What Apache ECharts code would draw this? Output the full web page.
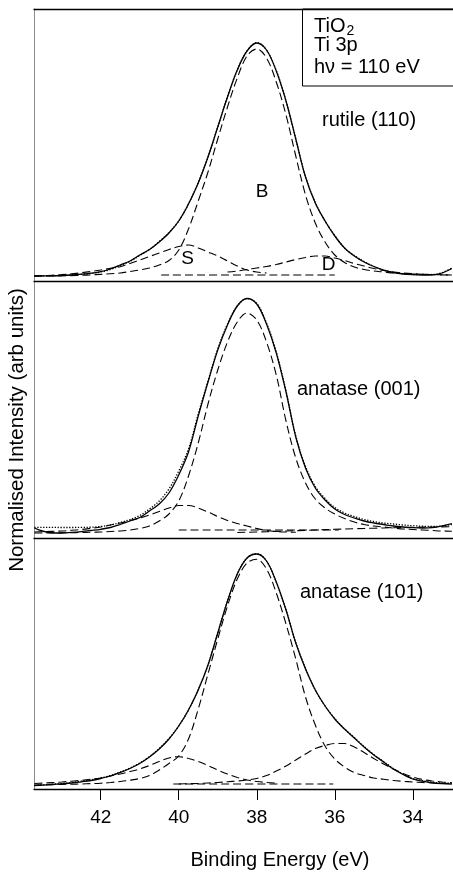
<!DOCTYPE html>
<html>
<head>
<meta charset="utf-8">
<script src="https://cdn.jsdelivr.net/npm/echarts@6/dist/echarts.min.js"></script>
<style>
  html, body { margin: 0; padding: 0; background: #fff; }
  #chart { width: 453px; height: 872px; }
</style>
</head>
<body>
<div id="chart"></div>
<script>
// Binding energies (eV) sampled along the curves
const energy = [43.7, 43.5, 43.25, 43.0, 42.75, 42.5, 42.25, 42.0, 41.75, 41.5, 41.25, 41.0, 40.75, 40.5, 40.25, 40.0, 39.75, 39.5, 39.25, 39.0, 38.75, 38.5, 38.25, 38.0, 37.75, 37.5, 37.25, 37.0, 36.75, 36.5, 36.25, 36.0, 35.75, 35.5, 35.25, 35.0, 34.75, 34.5, 34.25, 34.0, 33.75, 33.5, 33.25, 33.0];
const tickValues = [42, 40, 38, 36, 34];
const panelLabels = ['rutile (110)', 'anatase (001)', 'anatase (101)'];
const componentLabels = ['B', 'S', 'D'];
const boxLines = ['TiO', '2', 'Ti 3p', 'hν = 110 eV'];

// rutile (110)
const rutileFit  = [5, 5.1, 5.2, 5.5, 6, 6.8, 7.8, 9.3, 12, 16, 20, 26, 31.5, 39, 48, 60, 77, 98, 124, 154, 184, 211, 230, 238, 231, 210, 180, 142, 104, 78, 60, 45, 33, 25, 19, 14.5, 11, 8.5, 7, 6.3, 6, 6.2, 8, 12.5];
const rutileData = [5, 5, 5.3, 5.5, 6.2, 6.6, 7.5, 9, 11.5, 15.5, 19.5, 25.5, 31.5, 39.5, 48.5, 60, 77, 98.5, 124, 154, 184.5, 211, 230, 238.5, 231, 210.5, 180, 142, 104, 78.5, 60, 45.5, 33, 25.5, 19.5, 14.5, 11, 8.5, 7.3, 6.5, 6.3, 6.5, 8.3, 12.8];
const rutileB    = [5, 5, 5.1, 5.2, 5.4, 5.7, 6.1, 6.6, 7.2, 8, 9.5, 11, 13, 16, 20.5, 31, 52, 80, 109, 142, 174, 203, 225, 232, 223, 199, 166, 125, 86, 58, 39, 26, 18.5, 14, 11.5, 10, 9, 8, 7.5, 7, 6.7, 6.5, 6.2, 6];
const rutileS    = [5, 5.3, 5.8, 6.4, 7.2, 8.2, 9.5, 11, 12.7, 14.3, 17.5, 21, 24.5, 28, 31.5, 34.5, 36, 33, 29, 25, 20, 15, 11, 9, 8];
const rutileD    = [9, 10, 11.5, 13, 14.5, 16.5, 19, 21.5, 23.5, 25, 25, 23, 20.5, 17.5, 15, 12.5, 10.5, 9, 8, 7.3, 6.8, 6.3, 6.1, 6];
const rutileBgE  = [40.45, 36.0];
const rutileBg   = [6, 6];

// anatase (001)
const a001Fit  = [10, 7, 5.2, 5, 5.6, 6.4, 7.5, 8.7, 10.5, 13.5, 17, 20.5, 27, 34, 45, 63, 86, 122, 156, 188, 213, 232, 239.5, 234, 214, 185, 146, 101, 70, 50, 38, 29, 23.5, 20, 17, 15, 13.5, 12, 11, 10.3, 10, 10.3, 12, 14.5];
const a001Data = [10.7, 10.7, 10.6, 10.5, 10.5, 10.6, 10.8, 11.5, 13, 15.5, 18.5, 22.5, 29, 37, 49, 67, 89, 124, 157, 189, 214, 232, 239.5, 234.5, 215, 186, 147, 102, 71.5, 51.5, 39.5, 30.5, 25, 21.5, 18.5, 16.5, 15, 14, 13, 12.3, 11.8, 11.5, 12, 13.5];
const a001B    = [5, 5, 5.1, 5.2, 5.3, 5.5, 5.7, 6, 6.5, 7, 8, 9.5, 12, 17, 24, 37, 62, 95, 134, 168, 196, 216, 225, 218, 196, 163, 117, 80, 55, 39, 30, 24, 19.5, 16, 13.5, 12, 11, 10, 9, 8.5, 8, 7.5, 7, 6.8];
const a001S    = [6, 6.3, 6.6, 7, 7.7, 8.5, 9.7, 11, 13, 15, 17.5, 20, 23, 26.5, 30, 32.5, 32.5, 30, 26, 21.5, 17.5, 14.5, 12, 9.5, 7.5, 6.5, 6, 5.8];
const a001DE   = [38.5, 38.0, 37.5, 37.0, 36.5, 36.0, 35.5, 35.0, 34.5, 34.0, 33.5, 33.0];
const a001D    = [5.5, 6, 6.6, 7.3, 8, 8.7, 9.3, 9.8, 10.3, 10.7, 11, 11.3];
const a001BgE  = [40.0, 35.9];
const a001Bg   = [8, 8];

// anatase (101)
const a101Fit  = [3.3, 3.8, 4.5, 5.2, 6, 7.2, 8.5, 10.5, 13, 16.5, 20.5, 25.5, 32, 40, 50, 63, 79, 99, 124, 156, 188, 215, 231, 235, 228, 207, 179, 146, 120, 99, 83, 70, 60, 51, 42, 34, 27, 20, 14.5, 10, 7.8, 6.2, 5.4, 5];
const a101Data = [3.5, 4, 4.8, 5.5, 6.5, 7.8, 9.2, 11, 13.5, 17, 21, 26, 32.5, 40.5, 50.5, 63, 79, 99.5, 124, 156, 188, 215, 231, 235.5, 228, 207, 179, 146.5, 120.5, 99, 83, 70.5, 60, 51.5, 42.5, 34.5, 27.5, 20.5, 15, 10.5, 8.3, 6.7, 6, 5.8];
const a101B    = [4, 4.2, 4.4, 4.6, 4.8, 5, 5.4, 5.8, 6.5, 7.5, 8.8, 10.5, 13.5, 19, 25.5, 33, 50, 80, 115, 150, 183, 210, 226, 229.7, 220, 196, 165, 130, 92, 64, 43, 30, 22, 16.5, 13.5, 11, 9.8, 8.5, 7.7, 7, 6.5, 6, 5.7, 5.5];
const a101S    = [5.5, 5.9, 6.4, 7, 7.8, 8.7, 9.8, 11, 13, 15, 17.5, 20, 23.5, 27.5, 31, 32.3, 30.5, 27.5, 23.5, 19, 15, 11.5, 9, 7.5, 6.5, 6];
const a101D    = [5, 5.3, 5.5, 6, 6.5, 7.2, 8, 9, 10.5, 13.5, 18, 23, 29, 35, 40.5, 43.5, 45.5, 45.5, 42, 36.5, 30.5, 25, 20, 15.5, 12, 9.5, 8, 7, 6.3];
const a101BgE  = [40.14, 36.04];
const a101Bg   = [5, 5];

const panelMax = [272, 257, 251];

const FONT = '"Liberation Sans", Arial, Helvetica, sans-serif';
const pairs = (xs, ys) => ys.map((v, i) => [xs[i], v]);

function solid(idx, data) {
  return { type: 'line', xAxisIndex: idx === 0 ? 0 : idx + 1, yAxisIndex: idx, data: data, showSymbol: false, smooth: 0.35, silent: true, z: 4,
    lineStyle: { color: '#000', width: 1.3, type: 'solid' } };
}
function dotted(idx, data) {
  return { type: 'line', xAxisIndex: idx === 0 ? 0 : idx + 1, yAxisIndex: idx, data: data, showSymbol: false, smooth: 0.35, silent: true, z: 3,
    lineStyle: { color: '#000', width: 1.3, type: [1.3, 1.6] } };
}
function dashed(idx, data) {
  return { type: 'line', xAxisIndex: idx === 0 ? 0 : idx + 1, yAxisIndex: idx, data: data, showSymbol: false, smooth: 0.35, silent: true, z: 2,
    lineStyle: { color: '#000', width: 1.1, type: [8, 4] } };
}

const xBase = { type: 'value', min: 32.97, max: 43.71, inverse: true, splitLine: { show: false },
  axisTick: { show: false }, axisLabel: { show: false } };

const option = {
  animation: false,
  backgroundColor: '#fff',
  grid: [
    { left: 34, right: 0, top: 9, height: 272 },
    { left: 34, right: 0, top: 281, height: 257 },
    { left: 34, right: 0, top: 538, height: 251 }
  ],
  xAxis: [
    Object.assign({}, xBase, { gridIndex: 0, position: 'bottom', axisLine: { show: true, onZero: false, lineStyle: { color: '#000', width: 1.3 } } }),
    Object.assign({}, xBase, { gridIndex: 0, position: 'top', axisLine: { show: true, onZero: false, lineStyle: { color: '#000', width: 1.3 } } }),
    Object.assign({}, xBase, { gridIndex: 1, position: 'bottom', axisLine: { show: true, onZero: false, lineStyle: { color: '#000', width: 1.3 } } }),
    Object.assign({}, xBase, { gridIndex: 2, position: 'bottom',
      axisLine: { show: true, onZero: false, lineStyle: { color: '#000', width: 1.3 } },
      axisTick: { show: true, customValues: tickValues, length: 11, inside: false, lineStyle: { color: '#000', width: 1 } },
      axisLabel: { show: true, customValues: tickValues, fontSize: 19, color: '#000', margin: 19, fontFamily: FONT } })
  ],
  yAxis: panelMax.map((m, i) => ({
    gridIndex: i, type: 'value', min: 0, max: m,
    axisLine: { show: true, onZero: false, lineStyle: { color: '#8c8c8c', width: 1 } },
    axisTick: { show: false }, axisLabel: { show: false }, splitLine: { show: false }
  })),
  series: [
    dashed(0, pairs(rutileBgE, rutileBg)),
    dashed(0, pairs(energy, rutileB)),
    dashed(0, pairs(energy, rutileS)),
    dashed(0, pairs(energy.slice(20), rutileD)),
    dotted(0, pairs(energy, rutileData)),
    solid(0, pairs(energy, rutileFit)),

    dashed(1, pairs(a001BgE, a001Bg)),
    dashed(1, pairs(energy, a001B)),
    dashed(1, pairs(energy, a001S)),
    dashed(1, pairs(a001DE, a001D)),
    dotted(1, pairs(energy, a001Data)),
    solid(1, pairs(energy, a001Fit)),

    dashed(2, pairs(a101BgE, a101Bg)),
    dashed(2, pairs(energy, a101B)),
    dashed(2, pairs(energy, a101S)),
    dashed(2, pairs(energy.slice(15), a101D)),
    dotted(2, pairs(energy, a101Data)),
    solid(2, pairs(energy, a101Fit))
  ],
  graphic: [
    { type: 'rect', shape: { x: 302.5, y: 9, width: 200, height: 77 }, style: { fill: 'none', stroke: '#000', lineWidth: 1 }, z: 10 },
    { type: 'text', x: 314, y: 26, style: { text: boxLines[0], font: '20px ' + FONT, fill: '#000', align: 'left', verticalAlign: 'middle' }, z: 10 },
    { type: 'text', x: 346.5, y: 31, style: { text: boxLines[1], font: '14px ' + FONT, fill: '#000', align: 'left', verticalAlign: 'middle' }, z: 10 },
    { type: 'text', x: 314, y: 45, style: { text: boxLines[2], font: '20px ' + FONT, fill: '#000', align: 'left', verticalAlign: 'middle' }, z: 10 },
    { type: 'text', x: 314, y: 67, style: { text: boxLines[3], font: '20px ' + FONT, fill: '#000', align: 'left', verticalAlign: 'middle' }, z: 10 },

    { type: 'text', x: 322, y: 120, style: { text: panelLabels[0], font: '20px ' + FONT, fill: '#000', align: 'left', verticalAlign: 'middle' }, z: 10 },
    { type: 'text', x: 297, y: 389, style: { text: panelLabels[1], font: '20px ' + FONT, fill: '#000', align: 'left', verticalAlign: 'middle' }, z: 10 },
    { type: 'text', x: 300, y: 592, style: { text: panelLabels[2], font: '20px ' + FONT, fill: '#000', align: 'left', verticalAlign: 'middle' }, z: 10 },

    { type: 'text', x: 262, y: 191.5, style: { text: componentLabels[0], font: '19px ' + FONT, fill: '#000', align: 'center', verticalAlign: 'middle' }, z: 10 },
    { type: 'text', x: 187.5, y: 259, style: { text: componentLabels[1], font: '19px ' + FONT, fill: '#000', align: 'center', verticalAlign: 'middle' }, z: 10 },
    { type: 'text', x: 328.5, y: 265, style: { text: componentLabels[2], font: '19px ' + FONT, fill: '#000', align: 'center', verticalAlign: 'middle' }, z: 10 },

    { type: 'text', x: 280, y: 860, style: { text: 'Binding Energy (eV)', font: '20px ' + FONT, fill: '#000', align: 'center', verticalAlign: 'middle' }, z: 10 },
    { type: 'text', x: 17, y: 430, rotation: Math.PI / 2, style: { text: 'Normalised Intensity (arb units)', font: '20.5px ' + FONT, fill: '#000', align: 'center', verticalAlign: 'middle' }, z: 10 }
  ]
};

const chart = echarts.init(document.getElementById('chart'), null, { renderer: 'canvas' });
chart.setOption(option);
</script>
</body>
</html>
